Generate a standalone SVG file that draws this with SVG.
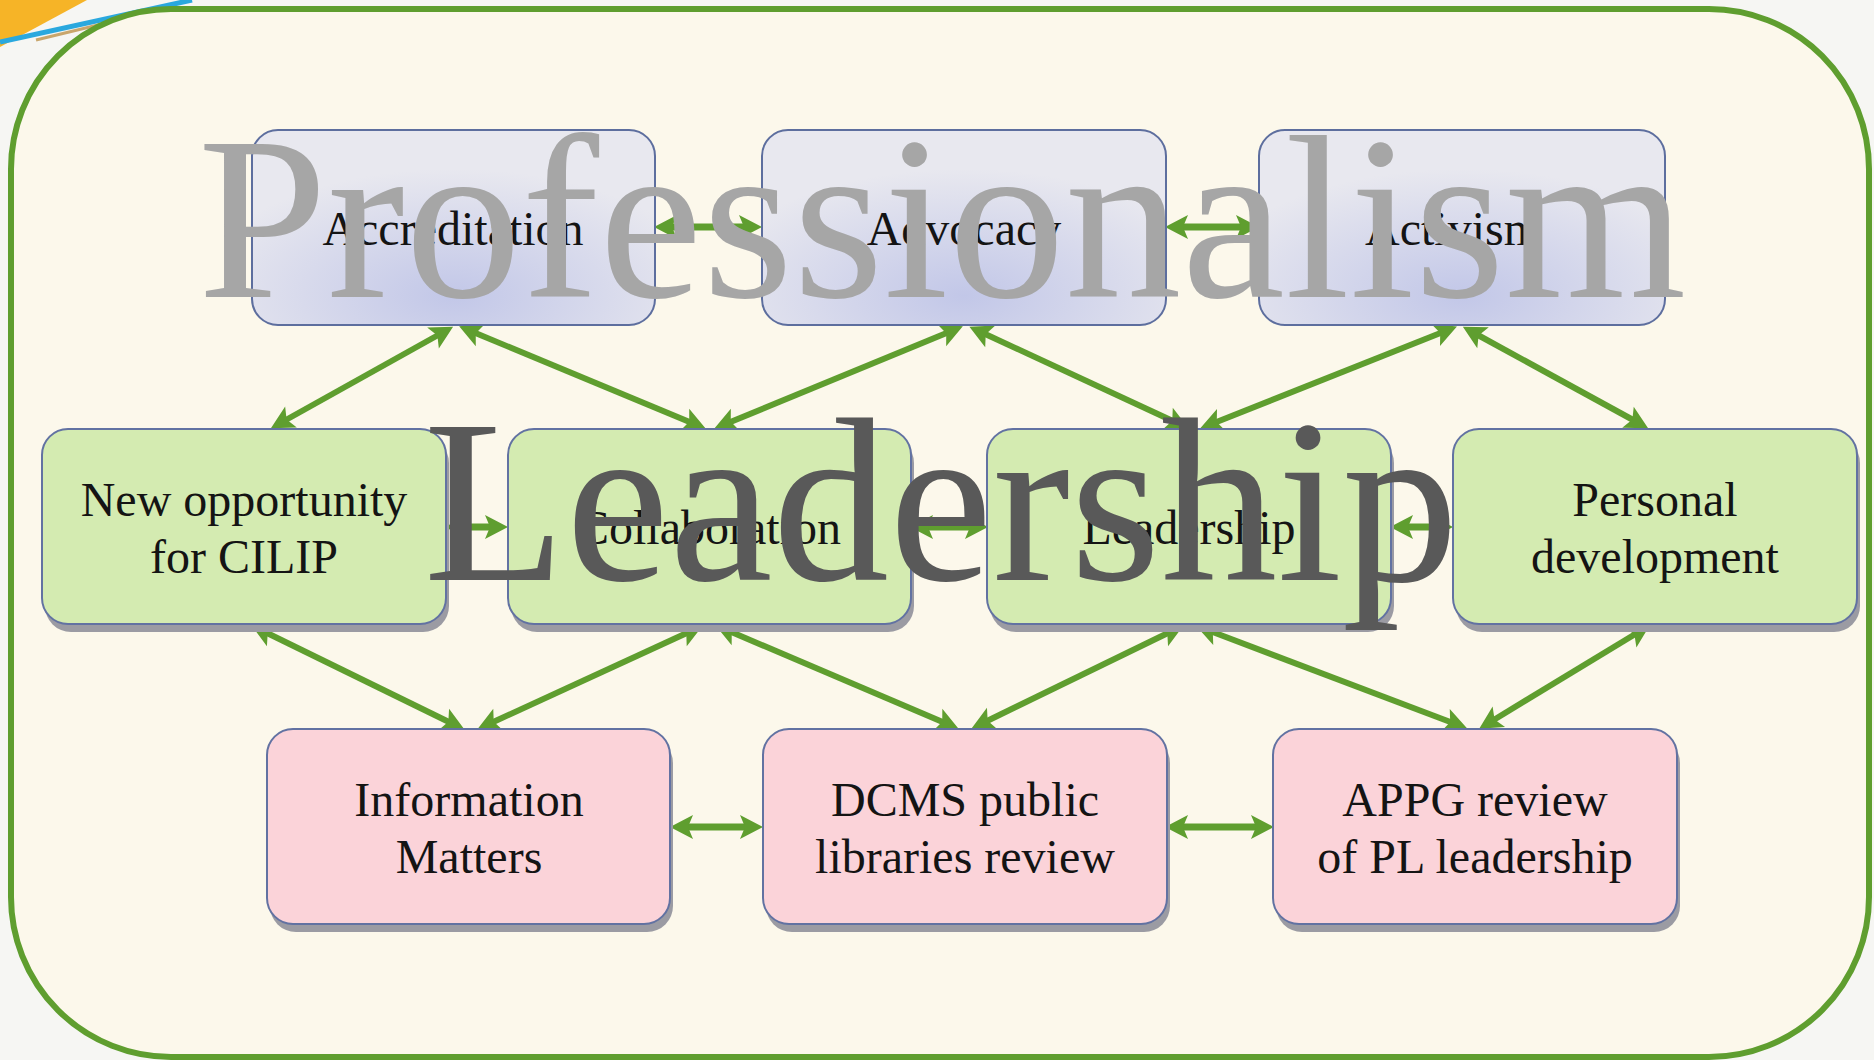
<svg xmlns="http://www.w3.org/2000/svg" width="1874" height="1060" viewBox="0 0 1874 1060">
<defs>
<style>
.lbl{font-family:"Liberation Serif","Times New Roman",serif;font-size:48px;fill:#141414;text-anchor:middle}
.big{font-family:"Liberation Serif","Times New Roman",serif;font-size:233px;text-anchor:middle}
.top{fill:url(#lav);stroke:#5D6E9E;stroke-width:2}
.mid{fill:#D4EBB1;stroke:#6272A2;stroke-width:2}
.bot{fill:#FBD3D9;stroke:#6272A2;stroke-width:2}
.shd{fill:#9B9BA3}
.con{stroke:#5F9E2F;fill:none;marker-start:url(#ah);marker-end:url(#ah)}
.d{stroke-width:6}
.h{stroke-width:7}
</style>
<radialGradient id="lav" cx="50%" cy="85%" r="65%">
<stop offset="0" stop-color="#C2C7E8"/>
<stop offset="1" stop-color="#E8E8EF"/>
</radialGradient>
<marker id="ah" markerUnits="userSpaceOnUse" markerWidth="44" markerHeight="44" viewBox="-22 -22 44 44" refX="0" refY="0" orient="auto-start-reverse">
<path d="M15,0 L-8,-12 L-3,0 L-8,12 Z" fill="#5F9E2F"/>
</marker>
</defs>
<rect x="0" y="0" width="1874" height="1060" fill="#F6F6F3"/>
<polygon points="0,0 87,0 0,47" fill="#F6B427"/>
<line x1="0" y1="42" x2="192" y2="0" stroke="#2AA8DE" stroke-width="5"/>
<line x1="36" y1="40" x2="160" y2="10" stroke="#C9A66C" stroke-width="3"/>
<rect x="11" y="9" width="1858" height="1048" rx="160" ry="160" fill="#FCF8EB" stroke="#5F9E2F" stroke-width="6"/>

<g id="connectors">
<line class="con d" x1="440" y1="334" x2="284" y2="421"/>
<line class="con d" x1="473" y1="332" x2="692" y2="423"/>
<line class="con d" x1="949" y1="332" x2="728" y2="423"/>
<line class="con d" x1="983" y1="333" x2="1175" y2="422"/>
<line class="con d" x1="1443" y1="332" x2="1214" y2="423"/>
<line class="con d" x1="1476" y1="334" x2="1635" y2="421"/>
<line class="con d" x1="265" y1="632" x2="451" y2="723"/>
<line class="con d" x1="689" y1="632" x2="491" y2="723"/>
<line class="con d" x1="729" y1="631" x2="945" y2="723"/>
<line class="con d" x1="1170" y1="632" x2="985" y2="722"/>
<line class="con d" x1="1210" y1="631" x2="1453" y2="723"/>
<line class="con d" x1="1637" y1="633" x2="1492" y2="721"/>
<line class="con h" x1="669" y1="227" x2="747" y2="227"/>
<line class="con h" x1="1180" y1="227" x2="1244" y2="227"/>
<line class="con h" x1="460" y1="527" x2="493" y2="527"/>
<line class="con h" x1="925" y1="527" x2="973" y2="527"/>
<line class="con h" x1="1405" y1="527" x2="1438" y2="527"/>
<line class="con h" x1="685" y1="827" x2="748" y2="827"/>
<line class="con h" x1="1180" y1="827" x2="1259" y2="827"/>
</g>

<g id="accreditation">
<rect class="top" x="252" y="130" width="403" height="195" rx="26"/>
<text class="lbl" x="453" y="245">Accreditation</text>
</g>
<g id="advocacy">
<rect class="top" x="762" y="130" width="404" height="195" rx="26"/>
<text class="lbl" x="964" y="245">Advocacy</text>
</g>
<g id="activism">
<rect class="top" x="1259" y="130" width="406" height="195" rx="26"/>
<text class="lbl" x="1453" y="245">Activism</text>
</g>

<g id="new-opportunity">
<rect class="shd" x="45" y="437" width="404" height="195" rx="26"/>
<rect class="mid" x="42" y="429" width="404" height="195" rx="26"/>
<text class="lbl" x="244" y="516">New opportunity</text>
<text class="lbl" x="244" y="573">for CILIP</text>
</g>
<g id="collaboration">
<rect class="shd" x="511" y="437" width="403" height="195" rx="26"/>
<rect class="mid" x="508" y="429" width="403" height="195" rx="26"/>
<text class="lbl" x="709" y="544">Collaboration</text>
</g>
<g id="leadership-node">
<rect class="shd" x="990" y="437" width="404" height="195" rx="26"/>
<rect class="mid" x="987" y="429" width="404" height="195" rx="26"/>
<text class="lbl" x="1189" y="544">Leadership</text>
</g>
<g id="personal-development">
<rect class="shd" x="1456" y="437" width="404" height="195" rx="26"/>
<rect class="mid" x="1453" y="429" width="404" height="195" rx="26"/>
<text class="lbl" x="1655" y="516">Personal</text>
<text class="lbl" x="1655" y="573">development</text>
</g>

<g id="information-matters">
<rect class="shd" x="270" y="737" width="403" height="195" rx="26"/>
<rect class="bot" x="267" y="729" width="403" height="195" rx="26"/>
<text class="lbl" x="469" y="816">Information</text>
<text class="lbl" x="469" y="873">Matters</text>
</g>
<g id="dcms">
<rect class="shd" x="766" y="737" width="404" height="195" rx="26"/>
<rect class="bot" x="763" y="729" width="404" height="195" rx="26"/>
<text class="lbl" x="965" y="816">DCMS public</text>
<text class="lbl" x="965" y="873">libraries review</text>
</g>
<g id="appg">
<rect class="shd" x="1276" y="737" width="404" height="195" rx="26"/>
<rect class="bot" x="1273" y="729" width="404" height="195" rx="26"/>
<text class="lbl" x="1475" y="816">APPG review</text>
<text class="lbl" x="1475" y="873">of PL leadership</text>
</g>

<g id="overlay">
<text class="big" x="942" y="297" fill="#A6A6A6">Professionalism</text>
<text class="big" x="941" y="580" fill="#595959">Leadership</text>
</g>
</svg>
